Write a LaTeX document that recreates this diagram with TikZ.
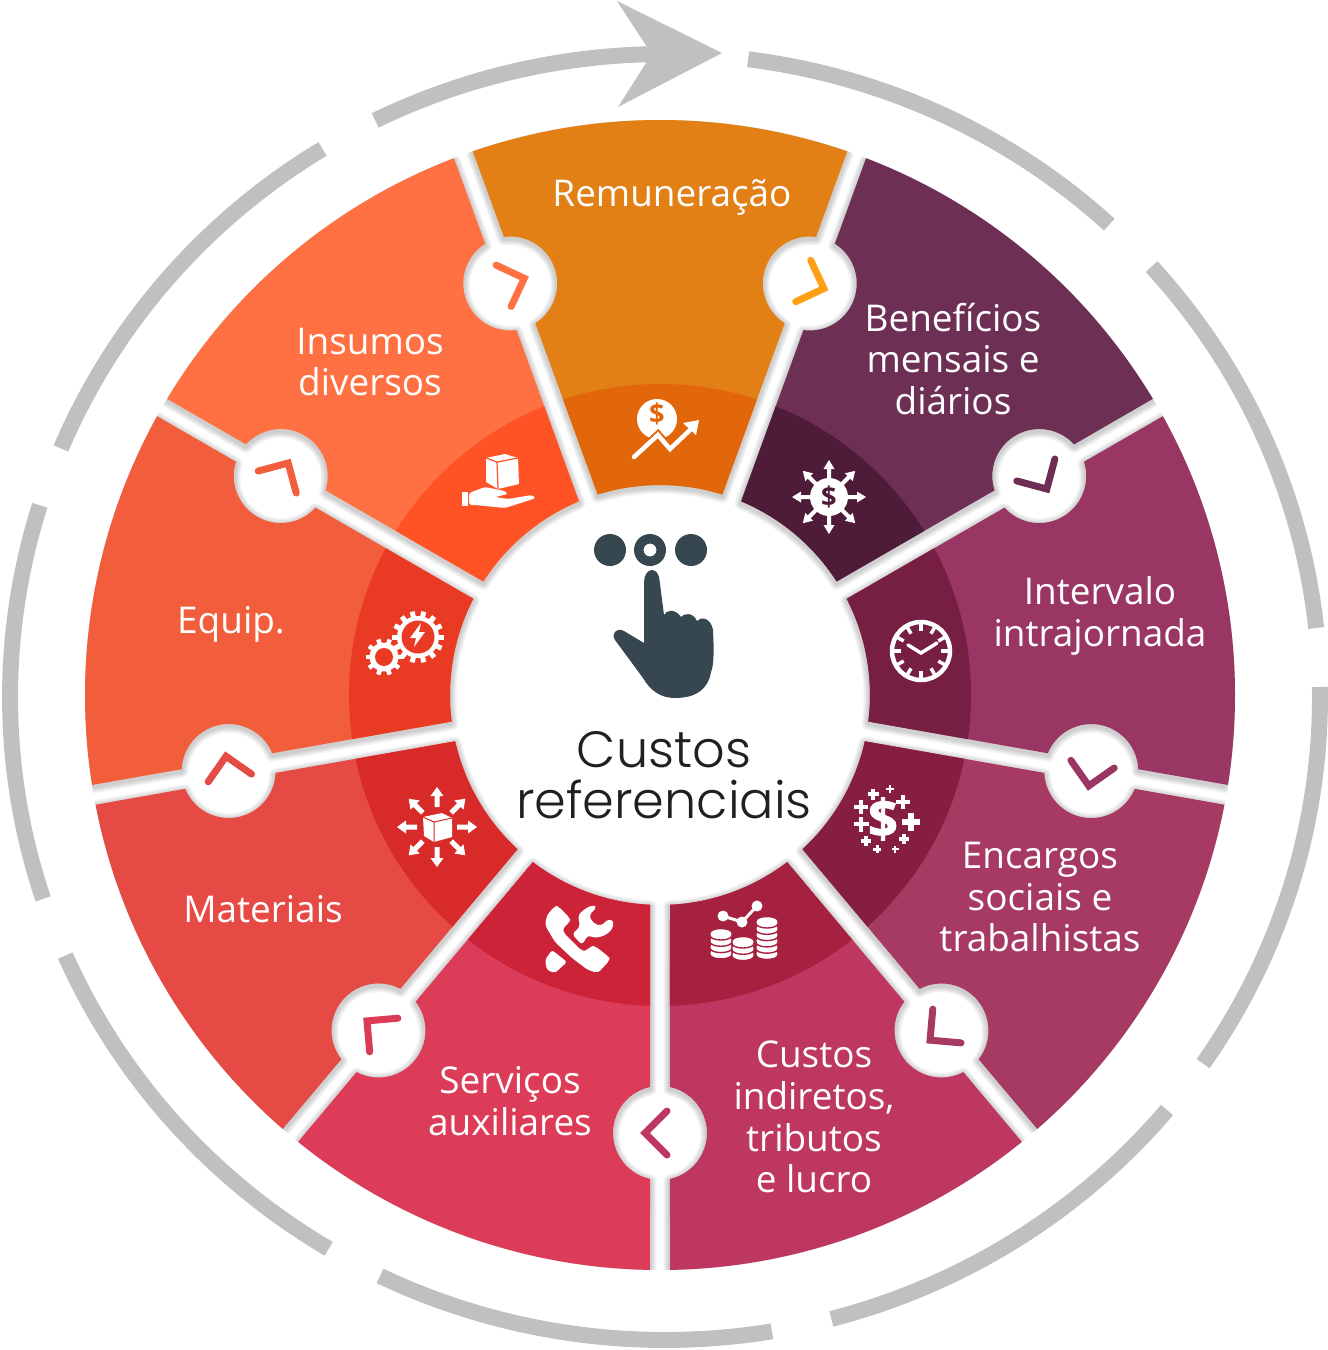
\documentclass[tikz,border=0pt]{standalone}
\usepackage{fontspec}
\setmainfont{Open Sans}
\newfontfamily\ctrfont{Poppins Light}
\newfontfamily\boldf{Open Sans}[UprightFont=* Bold]
\newfontfamily\xboldf{Open Sans}[UprightFont=* Bold,UprightFeatures={FakeBold=1.5}]
\definecolor{ringgray}{HTML}{C0C0C0}
\definecolor{handc}{HTML}{37474F}
\definecolor{ctrtext}{HTML}{231F20}
\definecolor{chevy}{HTML}{FFA014}
\definecolor{la}{HTML}{E28015}\definecolor{da}{HTML}{E2660A}
\definecolor{lb}{HTML}{6E2F55}\definecolor{db}{HTML}{4E1C39}
\definecolor{lc}{HTML}{9A3664}\definecolor{dc}{HTML}{771F42}
\definecolor{ld}{HTML}{A73A62}\definecolor{dd}{HTML}{861F3F}
\definecolor{le}{HTML}{BE3760}\definecolor{de}{HTML}{A6203F}
\definecolor{lf}{HTML}{DD3C59}\definecolor{df}{HTML}{CC2339}
\definecolor{lg}{HTML}{E64A45}\definecolor{dg}{HTML}{D82A29}
\definecolor{lh}{HTML}{F25E3B}\definecolor{dh}{HTML}{E93A24}
\definecolor{li}{HTML}{FF7043}\definecolor{di}{HTML}{FF5225}
\newcommand\sectorpath{(\c+17.27:210) -- (\c+18.54:392.13) arc[start angle=\c+212.3,end angle=\c+367.7,radius=47] -- (\c+19:575) arc[start angle=\c+19,end angle=\c-19,radius=575] -- (\c-18.82:484) arc[start angle=\c-20+12.3,end angle=\c-20+167.7,radius=47] -- (\c-17.27:210) arc[start angle=\c-17.27,end angle=\c+17.27,radius=210] -- cycle}
\newcommand\ringseg[4]{%
  \pgfmathsetmacro\ta{atan2((697-#2)/643,(#1-665)/655)}%
  \pgfmathsetmacro\tb{atan2((697-#4)/643,(#3-665)/655)}%
  \pgfmathsetmacro\tb{\tb>\ta?\tb-360:\tb}%
  \draw[ringline] ($(665,-697)+(\ta:655 and 643)$) arc[start angle=\ta,end angle=\tb,x radius=655,y radius=643];}
\newcommand\radarrows[6]{% cx cy r0 r1 w hw
  \foreach \aa in {0,45,...,315}{
    \fill[white,shift={(#1,#2)},rotate=\aa] (#3,-#5)--(#4-9,-#5)--(#4-9,-#6)--(#4,0)--(#4-9,#6)--(#4-9,#5)--(#3,#5)--cycle;}}
\newcommand\plussign[4]{\draw[white,px=#4] (#1-#3,#2)--(#1+#3,#2) (#1,#2-#3)--(#1,#2+#3);}
\newcommand\coinstack[4]{% x ytop layers colour
  \foreach \k in {#3,...,0}{
    \pgfmathsetmacro\yy{#2+\k*6.3}
    \filldraw[white,draw=#4,px=1.4] (#1-11,\yy) -- (#1-11,\yy+2.5) arc[start angle=180,end angle=0,x radius=11,y radius=4.5] -- (#1+11,\yy) arc[start angle=0,end angle=-180,x radius=11,y radius=4.5] -- cycle;}}
\newcommand\gearicon[7]{% cx cy rroot rout teeth toothw holeR
  \fill[white] (#1,#2) circle (#3);
  \pgfmathsetmacro\stepa{360/#5}
  \foreach \tt in {1,...,#5}{\draw[white,px=#6] ($(#1,#2)+(\tt*\stepa:#3-1)$) -- ($(#1,#2)+(\tt*\stepa:#4)$);}
  \fill[dh] (#1,#2) circle (#7);}
\usetikzlibrary{calc}
\tikzset{
  px/.style={line width=#1*0.5669pt},
  ringline/.style={ringgray,px=16},
  lab/.style={white,inner sep=0pt,align=center,font=\fontsize{21}{23.7}\selectfont},
  ctr/.style={ctrtext,inner sep=0pt,align=center,font=\ctrfont\fontsize{29}{29}\selectfont}
}
\begin{document}
\begin{tikzpicture}[x=0.02cm,y=0.02cm]
\useasboundingbox (0,0) rectangle (1328,-1350);
% grey ring
\ringseg{375}{120}{652}{55}
\ringseg{748}{60}{1108}{226}
\ringseg{1150}{268}{1316}{628}
\ringseg{1320}{687}{1205}{1065}
\ringseg{1167}{1110}{833}{1325}
\ringseg{773}{1337}{378}{1280}
\ringseg{328}{1250}{62}{957}
\ringseg{40}{900}{39}{505}
\ringseg{60}{448}{322}{148}
\fill[ringgray] (617,-1)--(722,-53)--(618,-107)--(646,-63)--(647,-47)--cycle;
% sectors
\begin{scope}[shift={(660,-695)}]
\begin{scope}
\clip (0,0) circle (575);
\foreach \c in {90,50,10,-30,-70,-110,-150,-190,-230}{
  \begin{scope}[yshift=-2*0.02cm]
  \foreach \w in {13,10,7,4}{\draw[black,opacity=0.05,px=\w,line join=round] \sectorpath;}
  \end{scope}
}
\end{scope}
\foreach \c/\l/\d/\k in {90/la/da/chevy,50/lb/db/lb,10/lc/dc/lc,-30/ld/dd/ld,-70/le/de/le,-110/lf/df/lf,-150/lg/dg/lg,-190/lh/dh/lh,-230/li/di/li}{
  \begin{scope}
    \clip \sectorpath;
    \fill[\l] (0,0) circle (580);
    \fill[\d] (0,0) circle (311);
  \end{scope}
  \begin{scope}[shift={(\c-20:438)},rotate=\c-110]
    \draw[\k,px=7,line cap=round,line join=miter] (-7,22)--(15,0)--(-7,-22);
  \end{scope}
}
\end{scope}
% everything below in image pixels
\begin{scope}[yscale=-1]
% centre dots and hand
\fill[handc] (610,550) circle (16) (691,550) circle (16);
\fill[handc,even odd rule] (650,550) circle (16) (650,550) circle (6.5);
\fill[handc] (644,582) .. controls (644,575) and (648,570) .. (652,570)
  .. controls (656,570) and (659,574) .. (659.5,580) -- (664,615)
  .. controls (666,610) and (675,608) .. (681,617)
  .. controls (684,613) and (693,612) .. (697,621)
  .. controls (701,616) and (711,618) .. (713,630)
  .. controls (714,650) and (714,665) .. (711,672)
  .. controls (708,690) and (695,698) .. (675,698)
  .. controls (660,698) and (650,690) .. (643,678)
  -- (615,640) .. controls (611,634) and (616,627) .. (624,631)
  -- (644,643) -- cycle;
% Remuneracao icon
\fill[white] (657,419) circle (20);
\node[font=\boldf\fontsize{15.5}{15.5}\selectfont,text=da,inner sep=0pt] (dollarA) at (657,414) {\$};
\draw[da,px=8.5] (634,457)--(658,435)--(670,449)--(692,428);
\draw[white,px=4.5,line cap=round] (634,457)--(658,435)--(670,449)--(690,430);
\fill[white] (699,420)--(683,423)--(696,435)--cycle;
% Beneficios icon
\radarrows{829}{497}{15}{37}{2}{5.5}
\fill[white] (829,497) circle (19);
\node[font=\boldf\fontsize{15.5}{15.5}\selectfont,text=db,inner sep=0pt] (dollarB) at (829,497) {\$};
% Intervalo icon: clock
\draw[white,px=4.5] (921,651) circle (29);
\foreach \aa in {0,30,...,330}{\draw[white,px=3.5] ($(921,651)+(\aa:28)$)--($(921,651)+(\aa:20)$);}
\draw[white,px=3.5,line cap=round] (908,645)--(921,653)--(937,643);
% Encargos icon
\node[font=\xboldf\fontsize{30}{30}\selectfont,text=white,inner sep=0pt] (dollarD) at (883,819) {\$};
\plussign{890}{789}{4}{2.5}\plussign{873}{794}{5.5}{3.5}\plussign{861}{807}{7}{4}
\plussign{903}{802}{7}{4.5}\plussign{911}{822}{9}{5.5}\plussign{861}{824}{7.5}{4.5}
\plussign{904}{839}{5}{3.5}\plussign{866}{841}{5}{3.5}\plussign{877}{849}{4}{3}\plussign{895}{849}{3.5}{2.5}
% Custos icon
\coinstack{721}{933}{3}{de}
\coinstack{743}{941}{2}{de}
\coinstack{767}{921}{5}{de}
\draw[white,px=3] (723,916)--(742,922)--(757,906);
\fill[white] (723,916) circle (5.5) (742,922) circle (5.5) (757,906) circle (5.5);
% Servicos icon
\fill[white,rounded corners=2pt] (572,934)--(580,927)--(578,915)--(586,908)--(593,905)--(597,907)--(589,915)--(593,923)--(601,926)--(608,919)--(614,921)--(612,930)--(604,936)--(594,938)--(588,935)--(582,945)--cycle;
\fill[white,rounded corners=1.5pt] (552,950)--(545,960)--(547,970)--(555,973)--(567,962)--cycle;
\draw[df,px=3] (566,936)--(584,954);
\fill[white,rounded corners=2pt] (555,906)--(547,915)--(545,925)--(555,942)--(572,958)--(588,970)--(598,973)--(610,960)--(609,957)--(595,946)--(591,946)--(586,951)--(582,951)--(563,932)--(563,928)--(570,922)--(570,918)--(558,906)--cycle;
% Materiais icon
\radarrows{437}{827}{20}{40}{2.5}{6.5}
\fill[white] (423,817)--(442,813)--(452,818)--(452,837)--(434,842)--(424,836)--cycle;
\draw[dg,px=1] (423,817)--(434,822)--(452,818) (434,822)--(434,842);
% Equip icon
\gearicon{418}{637}{21}{26}{14}{5}{16.5}
\gearicon{384}{657}{14.5}{18.5}{10}{4.5}{9}
\fill[white] (421,623)--(410,638)--(416,638)--(414,647)--(425,632)--(419,632)--cycle;
% Insumos icon
\fill[white] (486,458)--(505,454)--(518,458)--(519,484)--(498,489)--(486,482)--cycle;
\draw[di,px=1.2] (486,458)--(497,462)--(518,458) (497,462)--(498,489);
\fill[white] (462,492) rectangle (468,506);
\fill[white,rounded corners=1.5pt] (469,493)--(485,487)--(505,491)--(508,494)--(495,497)--(508,499)--(532,495)--(536,498)--(505,508)--(475,505)--(469,505)--cycle;
% labels
\node[lab] (tA) at (672,197) {Remuneração};
\node[lab] (tB) at (953,359) {Benefícios\\mensais e\\diários};
\node[lab] (tC) at (1100,616) {Intervalo\\intrajornada};
\node[lab] (tD) at (1040,897) {Encargos\\sociais e\\trabalhistas};
\node[lab] (tE) at (814,1117) {Custos\\indiretos,\\tributos\\e lucro};
\node[lab] (tF) at (510,1101) {Serviços\\auxiliares};
\node[lab] (tG) at (263,909) {Materiais};
\node[lab] (tH) at (231,624) {Equip.};
\node[lab] (tI) at (370,362) {Insumos\\diversos};
\node[ctr] (tCenter) at (664,775) {Custos\\referenciais};
\end{scope}
\end{tikzpicture}
\end{document}
